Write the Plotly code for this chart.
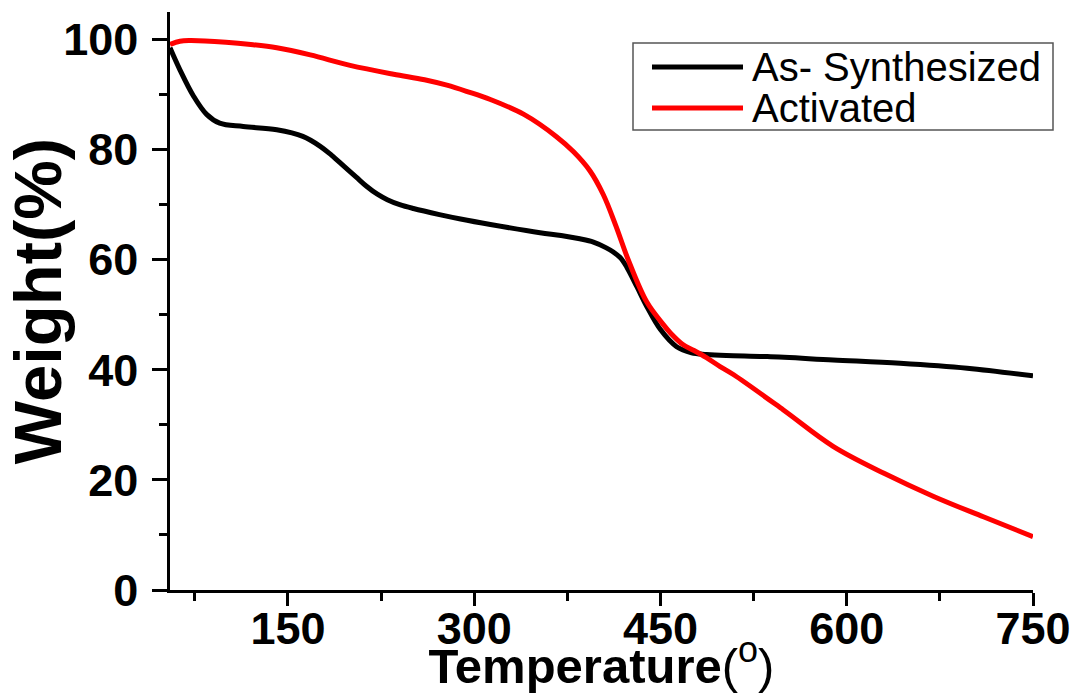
import plotly.graph_objects as go

# ---- data ----
temp_as = [55, 63, 74, 84.5, 95, 114, 141, 162, 176, 185, 195, 205, 213, 222, 230, 240, 251, 272, 289,
           313, 353, 370, 385, 396, 406, 412, 418, 423, 431, 439, 450, 463, 475, 487, 503, 536, 589,
           643, 697, 750]
weight_as = [98.5, 94.5, 89.7, 86.4, 84.8, 84.2, 83.6, 82.4, 80.6, 79.0, 77.0, 75.0, 73.4, 71.9, 70.9,
             70.0, 69.3, 68.2, 67.4, 66.4, 64.9, 64.4, 63.8, 63.2, 62.2, 61.4, 60.3, 58.6, 55.1, 51.5,
             47.3, 44.2, 43.1, 42.8, 42.6, 42.4, 41.8, 41.2, 40.3, 38.9]

temp_act = [55, 63, 72, 100, 120, 141, 168, 200, 235, 260, 278, 295, 313, 340, 366, 380, 393, 404, 414,
            424, 439, 452, 458, 468, 477, 487, 498, 509, 549, 589, 630, 670, 710, 750]
weight_act = [99.1, 99.7, 99.8, 99.5, 99.1, 98.5, 97.2, 95.3, 93.7, 92.7, 91.7, 90.5, 89.1, 86.4, 82.4,
              79.6, 76.2, 71.8, 66.2, 60.0, 52.3, 48.3, 46.7, 44.6, 43.5, 42.2, 40.6, 39.1, 32.7, 26.1,
              21.2, 17.0, 13.3, 9.7]

series_names = ["As- Synthesized", "Activated"]
series_colors = ["#000000", "#FF0000"]

x_tickvals = [150, 300, 450, 600, 750]
y_tickvals = [0, 20, 40, 60, 80, 100]

FONT = "Liberation Sans, Arial, sans-serif"

fig = go.Figure()
fig.add_trace(go.Scatter(x=temp_as, y=weight_as, mode="lines", name=series_names[0],
                         line=dict(color=series_colors[0], width=5, shape="spline", smoothing=1.0),
                         showlegend=False))
fig.add_trace(go.Scatter(x=temp_act, y=weight_act, mode="lines", name=series_names[1],
                         line=dict(color=series_colors[1], width=5, shape="spline", smoothing=1.0),
                         showlegend=False))

axis_common = dict(showgrid=False, zeroline=False, showline=True, linecolor="black", linewidth=2.5,
                   ticks="outside", tickcolor="black", tickwidth=2.5, mirror=False,
                   tickfont=dict(family=FONT, size=45, color="black", weight="bold"))

fig.update_xaxes(range=[55, 750], tickvals=x_tickvals, ticklen=13, ticklabelstandoff=-16,
                 minor=dict(ticks="outside", dtick=150, tick0=75, ticklen=8, tickwidth=2.5, tickcolor="black"),
                 title=dict(text="<b>Temperature</b>(<sup><span style='font-size:36px'>o</span></sup>)",
                            font=dict(family=FONT, size=49, color="black"), standoff=0),
                 **axis_common)
fig.update_yaxes(range=[0, 105], tickvals=y_tickvals, ticklen=15, ticklabelstandoff=5,
                 minor=dict(ticks="outside", dtick=20, tick0=10, ticklen=8, tickwidth=2.5, tickcolor="black"),
                 title=dict(text="<b>Weight(%)</b>", font=dict(family=FONT, size=67, color="black"), standoff=4),
                 **axis_common)

# legend drawn as a framed box in paper coordinates
W, H = 1077, 693
ml, mr, mt, mb = 170, 44, 12, 103
pw, ph = W - ml - mr, H - mt - mb

def px2paper_x(px):
    return (px - ml) / pw

def px2paper_y(py):
    return (H - mb - py) / ph

shapes = [dict(type="rect", xref="paper", yref="paper",
               x0=px2paper_x(633), x1=px2paper_x(1053), y0=px2paper_y(130), y1=px2paper_y(43),
               line=dict(color="#555555", width=1.5), fillcolor="white", layer="above")]
annotations = []
rows_y = [67, 108]
for name, color, ry in zip(series_names, series_colors, rows_y):
    shapes.append(dict(type="line", xref="paper", yref="paper",
                       x0=px2paper_x(652), x1=px2paper_x(743), y0=px2paper_y(ry), y1=px2paper_y(ry),
                       line=dict(color=color, width=5), layer="above"))
    annotations.append(dict(xref="paper", yref="paper", x=px2paper_x(750), y=px2paper_y(ry),
                            xanchor="left", yanchor="middle", showarrow=False, text=name,
                            font=dict(family=FONT, size=40, color="black")))

fig.update_layout(width=W, height=H, margin=dict(l=ml, r=mr, t=mt, b=mb, autoexpand=False),
                  paper_bgcolor="white", plot_bgcolor="white", shapes=shapes, annotations=annotations,
                  font=dict(family=FONT, color="black"))

fig.write_html("out.html")
